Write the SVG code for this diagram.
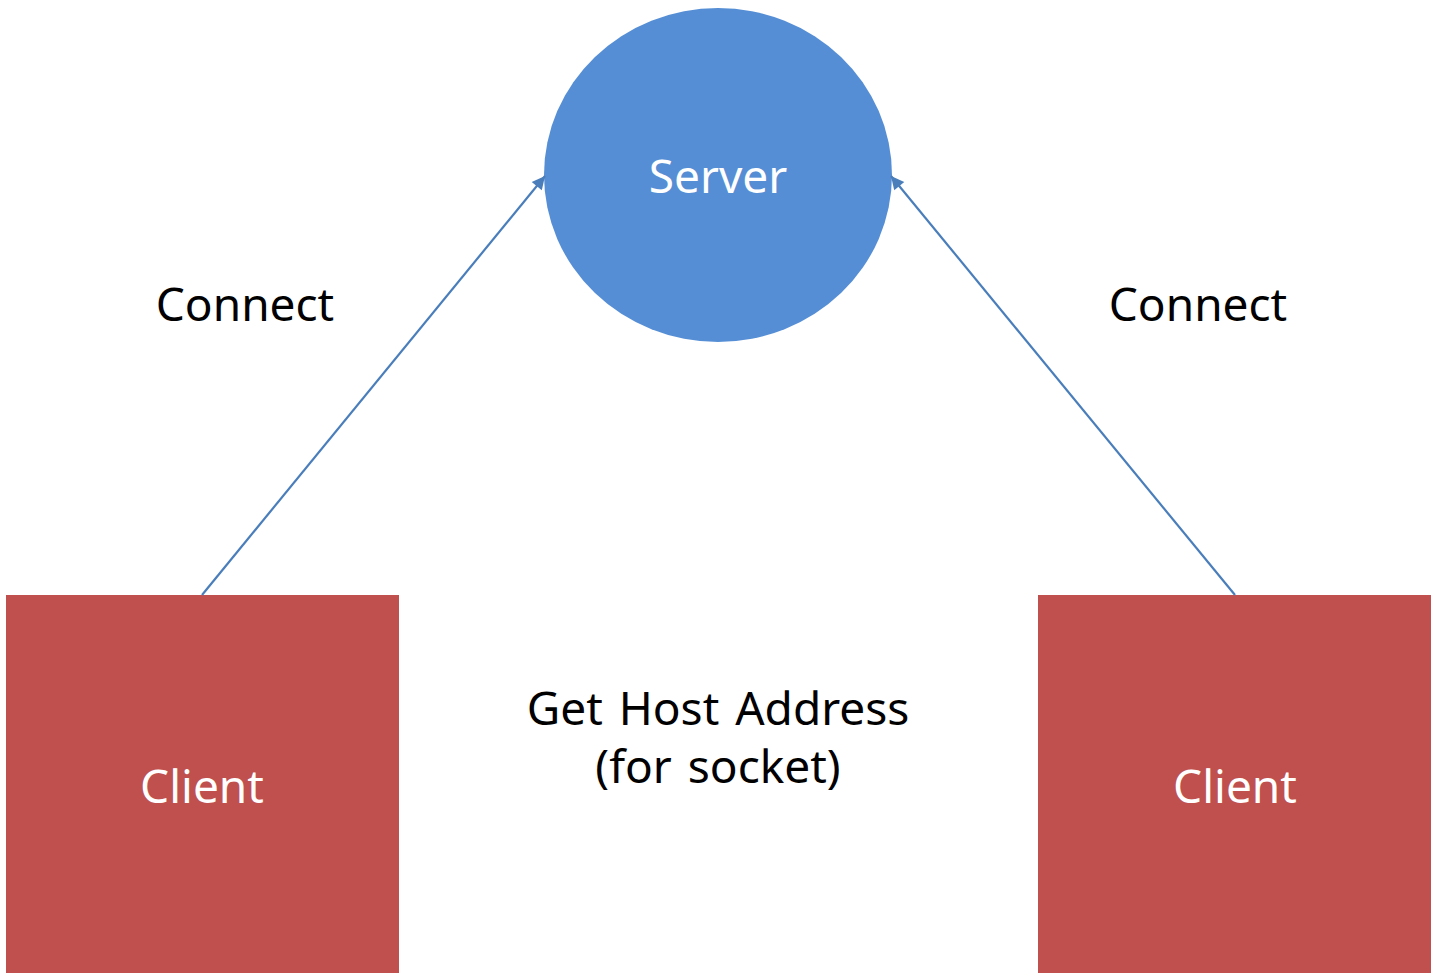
<svg xmlns="http://www.w3.org/2000/svg" width="1431" height="973" viewBox="0 0 1431 973">
  <style>
    .lbl { font-family: "Noto Sans", "Open Sans", sans-serif; font-size: 46px; text-anchor: middle; word-spacing: 4px; }
    .light { fill: #ffffff; }
    .dark { fill: #000000; }
    .client { fill: #c0504d; }
    .server { fill: #558ed5; }
    .conn { stroke: #4a7ebb; stroke-width: 2.2; fill: none; marker-end: url(#arrow); }
  </style>
  <defs>
    <marker id="arrow" viewBox="0 0 10 10" refX="10" refY="5" markerWidth="16" markerHeight="13" markerUnits="userSpaceOnUse" orient="auto">
      <path d="M0,0 L10,5 L0,10 z" fill="#4a7ebb"/>
    </marker>
  </defs>
  <rect width="1431" height="973" fill="#ffffff"/>

  <g id="server">
    <ellipse class="server" cx="718" cy="175" rx="174" ry="167"/>
    <text class="lbl light" x="718" y="193">Server</text>
  </g>

  <g id="client-left">
    <rect class="client" x="6" y="595" width="393" height="378"/>
    <text class="lbl light" x="202" y="803">Client</text>
  </g>

  <g id="client-right">
    <rect class="client" x="1038" y="595" width="393" height="378"/>
    <text class="lbl light" x="1235" y="803">Client</text>
  </g>

  <g id="label-connect-left">
    <text class="lbl dark" x="245" y="321">Connect</text>
  </g>
  <g id="label-connect-right">
    <text class="lbl dark" x="1198" y="321">Connect</text>
  </g>
  <g id="label-host">
    <text class="lbl dark" x="718" y="725">Get Host Address</text>
    <text class="lbl dark" x="718" y="783">(for socket)</text>
  </g>

  <g id="connectors">
    <line class="conn" x1="202" y1="595" x2="545" y2="176"/>
    <line class="conn" x1="1235" y1="595" x2="891" y2="176"/>
  </g>
</svg>
